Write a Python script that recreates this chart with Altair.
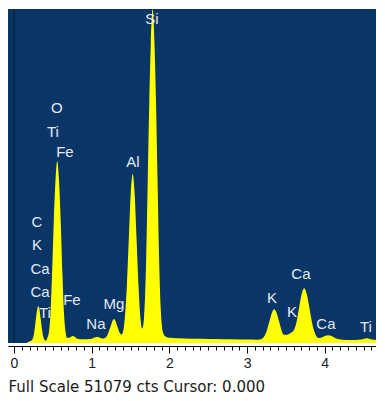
import altair as alt
import pandas as pd

# Spectrum (energy in keV, counts)
energy = [-0.077, 0.0, 0.16, 0.20,
          0.22, 0.237, 0.252, 0.267, 0.282, 0.297, 0.313, 0.329, 0.344, 0.359, 0.374, 0.39, 0.41,
          0.43, 0.45, 0.47, 0.49, 0.512, 0.535, 0.557, 0.579, 0.602, 0.624, 0.644, 0.664, 0.684,
          0.71, 0.74, 0.759, 0.778, 0.80, 0.83,
          0.90, 0.98, 1.023, 1.046, 1.068, 1.09, 1.113, 1.15,
          1.177, 1.197, 1.217, 1.242, 1.265, 1.287, 1.309, 1.332, 1.357, 1.38,
          1.403, 1.428, 1.453, 1.478, 1.503, 1.528, 1.553, 1.578, 1.603, 1.628, 1.651,
          1.675, 1.702, 1.722, 1.742, 1.762, 1.785, 1.808, 1.828, 1.848, 1.868, 1.888, 1.903,
          1.922, 1.95, 2.0,
          2.2, 2.4, 2.6, 2.8, 3.0, 3.12,
          3.164, 3.195, 3.226, 3.257, 3.288, 3.319, 3.35, 3.381, 3.412, 3.443, 3.474,
          3.50, 3.535, 3.57, 3.60,
          3.634, 3.668, 3.702, 3.736, 3.770, 3.804, 3.838, 3.872, 3.906, 3.93,
          3.975, 4.01, 4.045, 4.08, 4.115, 4.15, 4.185, 4.28, 4.40,
          4.47, 4.505, 4.54, 4.575, 4.61, 4.66]
counts = [0, 0, 0, 250,
          350, 550, 1100, 2200, 3700, 5000, 5660, 5000, 3700, 2200, 1100, 550, 350,
          800, 1700, 4500, 10500, 18500, 25000, 27830, 25000, 18500, 10500, 4500, 1700, 800,
          800, 1000, 1070, 1000, 780, 600,
          560, 600, 780, 890, 920, 890, 780, 700,
          800, 1060, 1630, 2480, 3300, 3670, 3300, 2480, 1630, 1300,
          1700, 4000, 8800, 15900, 22900, 25840, 22900, 15900, 8800, 3800, 2200,
          4000, 13000, 25000, 37000, 46000, 51079, 46000, 37000, 25000, 13000, 5500, 2800,
          1500, 1000, 800,
          700, 650, 600, 560, 520, 500,
          530, 685, 1110, 2000, 3310, 4600, 5150, 4600, 3310, 2000, 1250,
          1250, 1350, 1600, 1900,
          3040, 5260, 7430, 8360, 7430, 5260, 3040, 1550, 830, 750,
          900, 1095, 1180, 1095, 897, 694, 557, 470, 460,
          520, 640, 720, 640, 520, 460]

# Element labels drawn over the spectrum
label_text = ["Si", "O", "Ti", "Fe", "Al", "C", "K", "Ca", "Ca", "Fe", "Na", "Mg",
              "K", "K", "Ca", "Ca", "Ti"]
label_kev = [1.776, 0.553, 0.502, 0.656, 1.532, 0.296, 0.296, 0.335, 0.335, 0.746, 1.055,
             1.287, 3.32, 3.578, 3.694, 4.015, 4.53]
label_cts = [49540, 35930, 32260, 29200, 27670, 18500, 14980, 11310, 7800, 6570, 2900,
             5960, 6880, 4740, 10550, 2900, 2450]
# Element label partly hidden behind the O peak
hidden_text = ["Ti"]
hidden_kev = [0.399]
hidden_cts = [4590]

cursor_kev = [0.0]
full_scale = 51079
x_ticks = [round(i / 10, 1) for i in range(0, 47)]

spec = pd.DataFrame({"keV": energy, "cts": counts})
labels = pd.DataFrame({"t": label_text, "keV": label_kev, "cts": label_cts})
hidden = pd.DataFrame({"t": hidden_text, "keV": hidden_kev, "cts": hidden_cts})
cursor = pd.DataFrame({"keV": cursor_kev})

xs = alt.Scale(domain=[-0.077, 4.66], nice=False, zero=False)
ys = alt.Scale(domain=[0, full_scale], nice=False)

is_major = "abs(datum.value - round(datum.value)) < 0.001"

x_axis = alt.Axis(
    values=x_ticks,
    labelExpr=f"{is_major} ? format(datum.value, 'd') : ''",
    tickSize={"condition": {"test": is_major, "value": 7}, "value": 4},
    tickColor="#000000", domainColor="#000000", grid=False, offset=3,
    labelFontSize=14, labelColor="#1a1a1a", labelFont="Liberation Sans", labelPadding=3,
    labelFlush=False, labelOverlap=False, labelBound=False,
    title=f"Full Scale {full_scale} cts Cursor: 0.000",
    titleFont="DejaVu Sans", titleFontSize=15, titleFontWeight="normal",
    titleColor="#1a1a1a", titleAnchor="start", titleAlign="left", titleX=0, titleY=45,
    titleBaseline="alphabetic",
)

X = alt.X("keV:Q", scale=xs, axis=x_axis)
Y = alt.Y("cts:Q", scale=ys, axis=None)

cursor_line = alt.Chart(cursor).mark_rule(color="#06284f", strokeWidth=2).encode(x=X)

text_style = dict(font="Liberation Sans", fontSize=15, color="#e2eaf4", baseline="middle", align="center")

back_text = alt.Chart(hidden).mark_text(**text_style).encode(x=X, y=Y, text="t:N")

area = alt.Chart(spec).mark_area(color="#ffff00", interpolate="monotone", clip=True).encode(x=X, y=Y)

front_text = alt.Chart(labels).mark_text(**text_style).encode(x=X, y=Y, text="t:N")

chart = alt.layer(cursor_line, back_text, area, front_text).properties(
    width=368, height=334,
    padding=0,
    background="#ffffff",
).configure_view(fill="#0a3567", stroke=None)

chart.save("out.html", embed_options={"renderer": "svg", "actions": False})
